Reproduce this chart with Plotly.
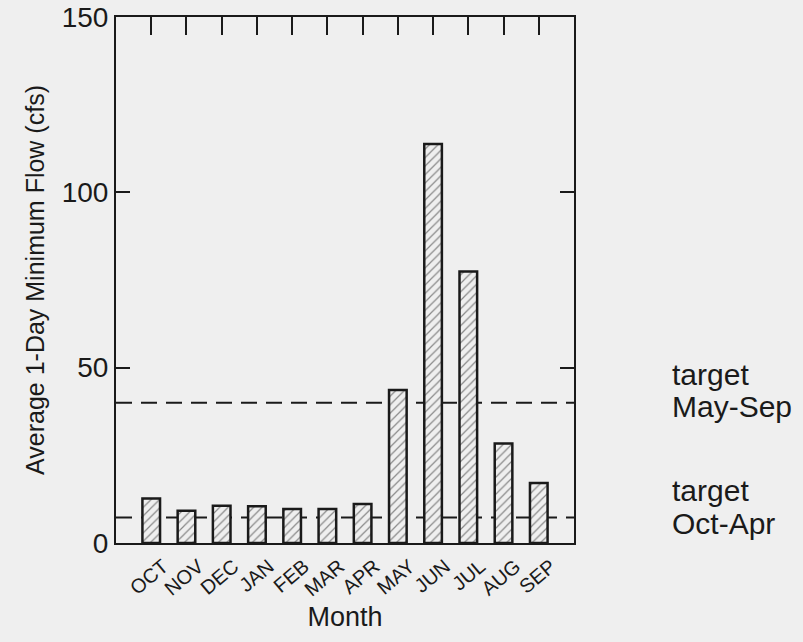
import plotly.graph_objects as go

months = ["OCT", "NOV", "DEC", "JAN", "FEB", "MAR", "APR", "MAY", "JUN", "JUL", "AUG", "SEP"]
avg_min_flow = [12.7, 9.2, 10.6, 10.5, 9.7, 9.7, 11.1, 43.6, 113.8, 77.4, 28.4, 17.1]
target_may_sep = 40.0
target_oct_apr = 7.3

BG = "#efefef"
INK = "#1a1a1a"
FONT = "Arial, Liberation Sans, sans-serif"

fig = go.Figure()

fig.add_trace(go.Bar(
    x=months, y=avg_min_flow, width=0.5,
    marker=dict(
        color=BG,
        line=dict(color=INK, width=2.5),
        pattern=dict(shape="/", fgcolor="#222222", bgcolor=BG, size=6, solidity=0.2),
    ),
    showlegend=False, hoverinfo="x+y",
))

# invisible trace that carries the top axis with the month tick marks
fig.add_trace(go.Scatter(x=months, y=[None] * len(months), xaxis="x2",
                         mode="markers", showlegend=False, hoverinfo="skip"))

for level in (target_may_sep, target_oct_apr):
    fig.add_shape(type="line", xref="paper", x0=0, x1=1, yref="y", y0=level, y1=level,
                  line=dict(color=INK, width=2, dash="16px,9px"), layer="below")

# two-line labels for the target levels, one annotation per line for tight spacing
target_labels = [
    ("target", target_may_sep + 8.0),
    ("May-Sep", target_may_sep - 1.1),
    ("target", target_oct_apr + 7.7),
    ("Oct-Apr", target_oct_apr - 1.7),
]
for text, yv in target_labels:
    fig.add_annotation(text=text, xref="paper", x=1.21, xanchor="left",
                       yref="y", y=yv, yanchor="middle", showarrow=False,
                       font=dict(family=FONT, size=30, color=INK))

fig.update_layout(
    width=803, height=642,
    margin=dict(l=116, r=229, t=17, b=99),
    paper_bgcolor=BG, plot_bgcolor=BG,
    font=dict(family=FONT, color=INK),
    xaxis=dict(
        type="category", categoryorder="array", categoryarray=months,
        range=[-1, 12], showline=True, linecolor=INK, linewidth=2, mirror=True,
        ticks="", tickangle=-40, tickfont=dict(size=20), showgrid=False,
        ticklabelshift=12, ticklabelstandoff=2,
        automargin=False,
        title=dict(text="Month", font=dict(size=27), standoff=8),
    ),
    xaxis2=dict(
        type="category", categoryorder="array", categoryarray=months,
        overlaying="x", side="top", matches="x", range=[-1, 12],
        ticks="inside", ticklen=18, tickwidth=2, tickcolor=INK,
        showticklabels=False, showgrid=False, showline=False, automargin=False,
    ),
    yaxis=dict(
        range=[0, 150], tickvals=[0, 50, 100, 150], showline=True, linecolor=INK,
        linewidth=2, mirror="ticks", ticks="inside", ticklen=14, tickwidth=2,
        tickcolor=INK, tickfont=dict(size=28), showgrid=False, zeroline=False,
        automargin=False,
        title=dict(text="Average 1-Day Minimum Flow (cfs)", font=dict(size=25), standoff=10),
    ),
)

fig.write_html("out.html")
